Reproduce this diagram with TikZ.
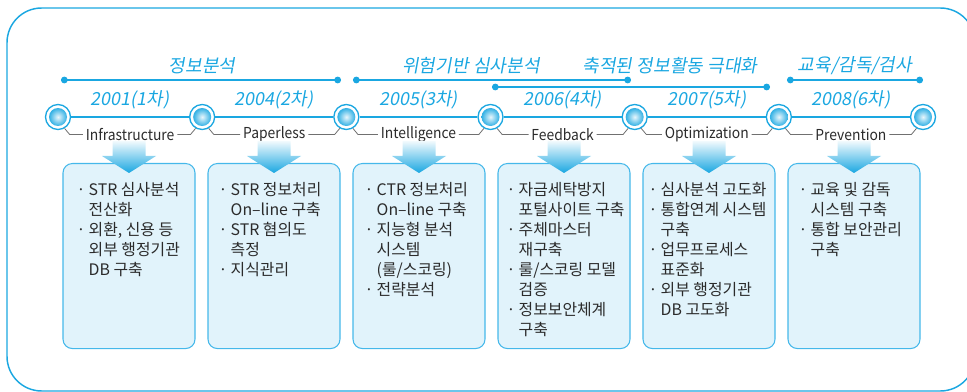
\documentclass[tikz,border=0pt]{standalone}
\usepackage{fontspec}
\setmainfont{Noto Sans CJK KR}
\newfontfamily\slantfont[FakeSlant=0.18]{Noto Sans CJK KR}
\newfontfamily\narrowfont[FakeStretch=0.92]{Noto Sans CJK KR}
\usepackage{tikz}
\usetikzlibrary{arrows.meta}
\usetikzlibrary{positioning}
\usetikzlibrary{calc}
\definecolor{tlblue}{HTML}{1AA7E1}
\definecolor{boxfill}{HTML}{E1F3FB}
\definecolor{boxline}{HTML}{45B8EA}
\definecolor{txtgray}{HTML}{2B2B2B}
\definecolor{brkgray}{HTML}{707070}
\newcommand{\itm}{\llap{\makebox[9pt][l]{·}}}

\begin{document}
\begin{tikzpicture}[x=0.75pt,y=-0.75pt,
  frame/.style={
    draw=tlblue, line width=1.1pt, rounded corners=26pt},
  tline/.style={
    draw=tlblue, line width=1.8pt},
  ring/.style={
    circle,
    draw=tlblue,
    line width=1pt,
    fill=white,
    minimum size=18.75pt,
    inner sep=0pt},
  ball/.style={
    circle,
    inner color=tlblue!10,
    outer color=tlblue!90,
    minimum size=13.5pt,
    inner sep=0pt},
  phase/.style={
    {Circle[length=5pt]}-{Circle[length=5pt]},
    draw=tlblue, line width=1.4pt},
  phaselab/.style={
    text=tlblue, font=\slantfont\fontsize{13.6}{15}\selectfont},
  yr/.style={
    text=tlblue, font=\slantfont\fontsize{13.5}{15}\selectfont},
  stage/.style={
    text=txtgray, inner sep=2pt, font=\narrowfont\fontsize{11.3}{13}\selectfont},
  brk/.style={
    draw=brkgray, line width=0.6pt},
  box/.style={
    draw=boxline,
    fill=boxfill,
    line width=0.8pt,
    rounded corners=7pt,
    minimum width=99pt,
    minimum height=138.75pt,
    inner sep=0pt},
  items/.style={
    text=txtgray, align=left, anchor=north west, inner sep=0pt,
    font=\fontsize{11.9}{15}\selectfont},
  arr/.style={
    top color=tlblue!6, bottom color=tlblue},
]

  \def\stepsize{144.17}%
  \def\boxstep{145}%
  \def\lvlcirc{117}%

  \useasboundingbox (0,0) rectangle (967,392);

    % outer frame
  \draw[frame] (7,8) rectangle (975,391);

    % timeline stops
  \foreach \i in {1,...,7} {
    \node[ring] (c\i) at (58+\stepsize*\i-\stepsize, \lvlcirc) {};
  }
  \foreach \i [count=\j from 2] in {1,...,6} {
    \draw[tline] (c\i) -- (c\j);
  }
  \foreach \i in {1,...,7} {
    \node[ball] (b\i) at (c\i) {};
  }

    % years and stage names
  \foreach \i/\yr/\stg [count=\j from 2] in {
      1/2001(1차)/Infrastructure,
      2/2004(2차)/Paperless,
      3/2005(3차)/Intelligence,
      4/2006(4차)/Feedback,
      5/2007(5차)/Optimization,
      6/2008(6차)/Prevention} {
    \node[yr] (y\i) at ($(c\i)!0.5!(c\j)+(0,-17)$) {\yr};
    \node[stage] (s\i) at ($(c\i)!0.5!(c\j)+(0,17.4)$) {\stg};
    \draw[brk] (c\i.-60) -- ++(5,6) coordinate (k\i) -- (k\i -| s\i.west);
    \draw[brk] (c\j.-120) -- ++(-5,6) coordinate (q\i) -- (q\i -| s\i.east);
  }

    % phases
  \coordinate (ph1a) at (61,80);
  \coordinate (ph1b) at (341,80);
  \coordinate (ph2a) at (353,80);
  \coordinate (ph2b) at (631,80);
  \coordinate (ph3a) at (492,87);
  \coordinate (ph3b) at (770,87);
  \coordinate (ph4a) at (787,80);
  \coordinate (ph4b) at (923,80);
  \foreach \p in {1,...,4} {
    \draw[phase] (ph\p a) -- (ph\p b);
  }
  \node[phaselab] (pl1) at (202,66) {정보분석};
  \node[phaselab] (pl2) at (471,66) {위험기반 심사분석};
  \node[phaselab] (pl3) at (670,66) {축적된 정보활동 극대화};
  \node[phaselab] (pl4) at (855,66) {교육/감독/검사};

    % task boxes
  \foreach \i in {1,...,6} {
    \node[box, anchor=north] (box\i) at (129+\boxstep*\i-\boxstep, 163) {};
    \shade[arr] ($(box\i.north)+(-16.5,-22)$) -- ++(33,0) -- ++(0,15)
        -- ++(10.5,0) -- ++(-27,17) -- ++(-27,-17) -- ++(10.5,0) -- cycle;
  }

  \node[items] (t1) at ($(box1.north west)+(26,19)$)
    {\itm STR 심사분석\\전산화\\\itm 외환, 신용 등\\외부 행정기관\\DB 구축};
  \node[items] (t2) at ($(box2.north west)+(23,19)$)
    {\itm STR 정보처리\\On–line 구축\\\itm STR 혐의도\\측정\\\itm 지식관리};
  \node[items] (t3) at ($(box3.north west)+(24,19)$)
    {\itm CTR 정보처리\\On–line 구축\\\itm 지능형 분석\\시스템\\(룰/스코링)\\\itm 전략분석};
  \node[items] (t4) at ($(box4.north west)+(21,19)$)
    {\itm 자금세탁방지\\포털사이트 구축\\\itm 주체마스터\\재구축\\\itm 룰/스코링 모델\\검증\\\itm 정보보안체계\\구축};
  \node[items] (t5) at ($(box5.north west)+(18,19)$)
    {\itm 심사분석 고도화\\\itm 통합연계 시스템\\구축\\\itm 업무프로세스\\표준화\\\itm 외부 행정기관\\DB 고도화};
  \node[items] (t6) at ($(box6.north west)+(23,19)$)
    {\itm 교육 및 감독\\시스템 구축\\\itm 통합 보안관리\\구축};

\end{tikzpicture}
\end{document}
